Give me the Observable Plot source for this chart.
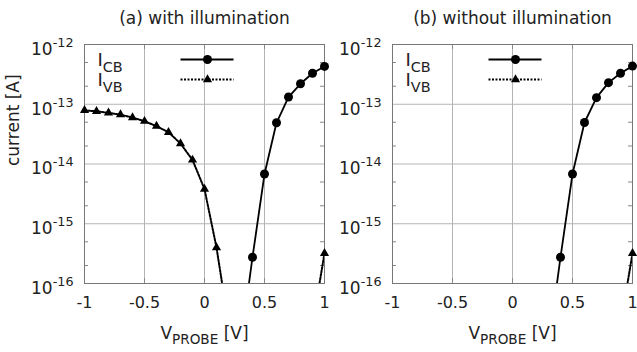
<!DOCTYPE html>
<html><head><meta charset="utf-8">
<script src="https://cdn.jsdelivr.net/npm/d3@7"></script>
<script src="https://cdn.jsdelivr.net/npm/@observablehq/plot@0.6"></script>
<style>
body{margin:0;background:#fff;}
#wrap{position:relative;width:637px;height:352px;overflow:hidden;background:#fff;}
#wrap > div{position:absolute;top:0;}
</style></head><body>
<div id="wrap"><div id="pa" style="left:0px"></div><div id="pb" style="left:308px"></div></div>
<script>
// ---- data ----
const panelTitles = ["(a) with illumination", "(b) without illumination"];
const seriesLabels = ["I_{CB}", "I_{VB}"];
const xLabel = "V_{PROBE} [V]";
const yLabel = "current [A]";

const vCB = [0.3, 0.4, 0.5, 0.6, 0.7, 0.8, 0.9, 1.0];
const iCB_a = [9e-18, 2.75e-16, 6.8e-15, 4.9e-14, 1.32e-13, 2.2e-13, 3.3e-13, 4.3e-13];
const iCB_b = [9e-18, 2.75e-16, 6.8e-15, 4.95e-14, 1.29e-13, 2.3e-13, 3.3e-13, 4.35e-13];

const vVB_a = [-1, -0.9, -0.8, -0.7, -0.6, -0.5, -0.4, -0.3, -0.2, -0.1, 0, 0.1, 0.2, 0.9, 1.0];
const iVB_a = [7.9e-14, 7.6e-14, 7.2e-14, 6.7e-14, 6.0e-14, 5.2e-14, 4.3e-14, 3.4e-14, 2.2e-14, 1.17e-14, 3.8e-15, 4.0e-16, 2.1e-17, 2e-17, 3.2e-16];
const vVB_b = [0.9, 1.0];
const iVB_b = [2e-17, 3.2e-16];

const xTicks = [-1, -0.5, 0, 0.5, 1];
const yTicks = [1e-16, 1e-15, 1e-14, 1e-13, 1e-12];
const yMinor = [2e-16, 5e-16, 2e-15, 5e-15, 2e-14, 5e-14, 2e-13, 5e-13];

// ---- drawing ----
const FONT = "DejaVu Sans";
const hline = {draw(ctx) { ctx.moveTo(-27, 0); ctx.lineTo(26, 0); }};

function panel(title, cbY, vbX, vbY, withYLabel, width) {
  const W = 240;
  const cb = vCB.map((x, i) => ({x, y: cbY[i]}));
  const vb = vbX.map((x, i) => ({x, y: vbY[i]}));
  const inRange = d => d.y >= 1e-16 && d.y <= 1e-12;
  const id = d => d;
  return Plot.plot({
    width, height: 352,
    marginLeft: 84, marginRight: width - 84 - W, marginTop: 44, marginBottom: 69,
    style: {background: "transparent", overflow: "visible", fontFamily: FONT, color: "#222"},
    x: {domain: [-1, 1]},
    y: {type: "log", domain: [1e-16, 1e-12]},
    marks: [
      Plot.gridX(xTicks, {stroke: "#b4b4b4", strokeOpacity: 1}),
      Plot.gridY(yTicks, {stroke: "#b4b4b4", strokeOpacity: 1}),
      Plot.tickY(yMinor, {y: id, insetRight: W - 4, stroke: "#888"}),
      Plot.tickY(yMinor, {y: id, insetLeft: W - 4, stroke: "#888"}),
      Plot.tickX(xTicks, {x: id, insetTop: W - 6, stroke: "#888"}),
      Plot.tickX(xTicks, {x: id, insetBottom: W - 6, stroke: "#888"}),
      Plot.frame({stroke: "#777"}),
      Plot.axisX(xTicks, {tickSize: 0, tickPadding: 13, tickFormat: d => String(d), label: null, fontSize: 16, fontFamily: FONT}),
      Plot.axisY(yTicks, {tickSize: 0, tickPadding: 11, tickFormat: d => `10^{${Math.round(Math.log10(d))}}`, label: null, dy: 5, fontSize: 17, fontFamily: FONT}),
      Plot.line(vb, {x: "x", y: "y", stroke: "black", strokeWidth: 2, strokeDasharray: "2,1.5", clip: true}),
      Plot.line(cb, {x: "x", y: "y", stroke: "black", strokeWidth: 1.8, clip: true}),
      Plot.dot(vb.filter(inRange), {x: "x", y: "y", symbol: "triangle", r: 3.4, fill: "black", stroke: null}),
      Plot.dot(cb.filter(inRange), {x: "x", y: "y", r: 4.5, fill: "black", stroke: null}),
      // legend
      Plot.dot([0], {frameAnchor: "top-left", dx: 123, dy: 15, symbol: hline, stroke: "black", strokeWidth: 1.8, fill: "none"}),
      Plot.dot([0], {frameAnchor: "top-left", dx: 123, dy: 15, r: 4.5, fill: "black", stroke: null}),
      Plot.dot([0], {frameAnchor: "top-left", dx: 123, dy: 35, symbol: hline, stroke: "black", strokeWidth: 2, strokeDasharray: "2,1.5", fill: "none"}),
      Plot.dot([0], {frameAnchor: "top-left", dx: 123, dy: 35, symbol: "triangle", r: 3.4, fill: "black", stroke: null}),
      Plot.text([seriesLabels[0]], {text: id, frameAnchor: "top-left", textAnchor: "start", lineAnchor: "bottom", dx: 13, dy: 21, fontSize: 18}),
      Plot.text([seriesLabels[1]], {text: id, frameAnchor: "top-left", textAnchor: "start", lineAnchor: "bottom", dx: 13, dy: 41, fontSize: 18}),
      // titles & axis labels
      Plot.text([title], {text: id, frameAnchor: "top", lineAnchor: "bottom", dy: -21, fontSize: 17}),
      Plot.text([xLabel], {text: id, frameAnchor: "bottom", lineAnchor: "bottom", dy: 55, fontSize: 17}),
      withYLabel ? Plot.text([yLabel], {text: id, frameAnchor: "left", rotate: -90, dx: -71, dy: 2, fontSize: 17}) : null
    ]
  });
}

function richify(root) {
  const NS = "http://www.w3.org/2000/svg";
  root.querySelectorAll("text").forEach(t => {
    const s = t.textContent;
    if (!/[\^_]\{/.test(s)) return;
    const fs = parseFloat(getComputedStyle(t).fontSize) || 16;
    const parts = s.split(/([\^_]\{[^}]*\})/);
    t.textContent = "";
    let shift = 0;
    for (const p of parts) {
      if (!p) continue;
      const ts = document.createElementNS(NS, "tspan");
      const m = p.match(/^([\^_])\{([^}]*)\}$/);
      if (m) {
        const target = m[1] === "^" ? -0.48 * fs : 0.35 * fs;
        ts.setAttribute("dy", target - shift);
        shift = target;
        ts.setAttribute("font-size", (m[1] === "^" ? 0.75 : 0.8) * fs);
        ts.textContent = m[2];
      } else {
        if (shift) { ts.setAttribute("dy", -shift); shift = 0; }
        ts.textContent = p;
      }
      t.appendChild(ts);
    }
  });
}

const a = panel(panelTitles[0], iCB_a, vVB_a, iVB_a, true, 330);
const b = panel(panelTitles[1], iCB_b, vVB_b, iVB_b, false, 329);
document.getElementById("pa").appendChild(a);
document.getElementById("pb").appendChild(b);
richify(a); richify(b);
</script>
</body></html>
